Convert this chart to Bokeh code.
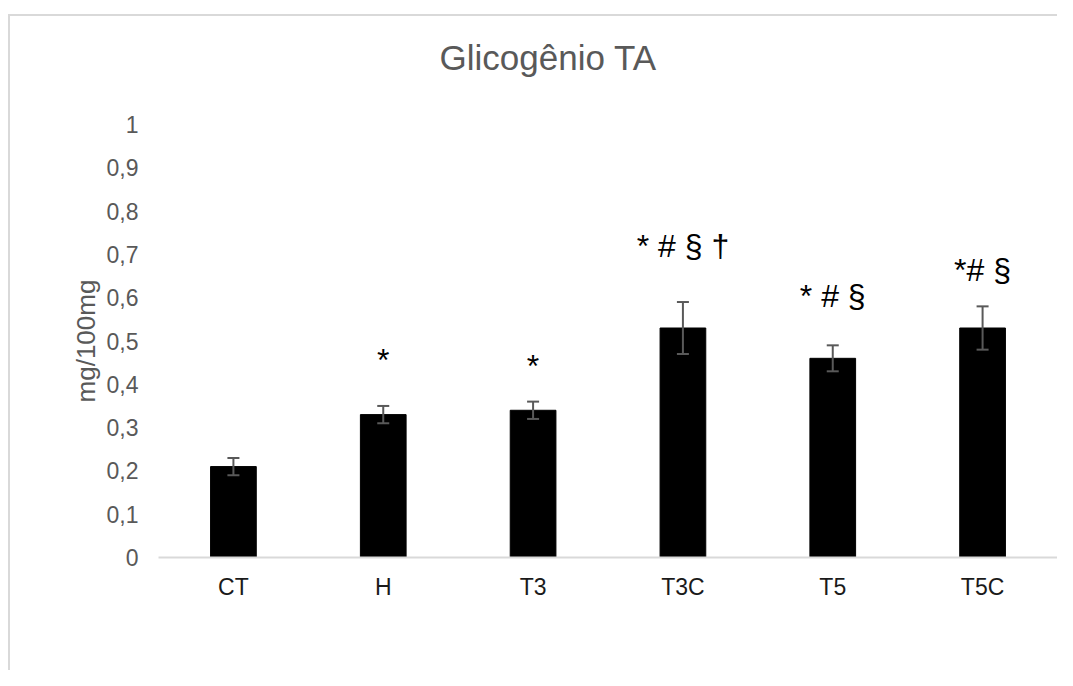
from bokeh.plotting import figure
from bokeh.models import ColumnDataSource, Whisker, TeeHead, Range1d, FactorRange, FixedTicker, Title
from bokeh.core.properties import value
from bokeh.embed import file_html
from bokeh.resources import INLINE

# ---- data ----
categories = ["CT", "H", "T3", "T3C", "T5", "T5C"]
means = [0.21, 0.33, 0.34, 0.53, 0.46, 0.53]
errors = [0.02, 0.02, 0.02, 0.06, 0.03, 0.05]
sig_labels = ["", "*", "*", "* # § †", "* # §", "*# §"]
sig_heights = [0.0, 0.455, 0.442, 0.7185, 0.605, 0.663]
yticks = [0, 0.1, 0.2, 0.3, 0.4, 0.5, 0.6, 0.7, 0.8, 0.9, 1]
ytick_labels = ["0", "0,1", "0,2", "0,3", "0,4", "0,5", "0,6", "0,7", "0,8", "0,9", "1"]
title_text = "Glicogênio TA"
ylabel_text = "mg/100mg"

FONT = "Liberation Sans"
GRAY = "#595959"
FRAME = "#d9d9d9"

src = ColumnDataSource(dict(
    cat=categories,
    mean=means,
    upper=[m + e for m, e in zip(means, errors)],
    lower=[m - e for m, e in zip(means, errors)],
))
sig_idx = [i for i, s in enumerate(sig_labels) if s]
sig_src = ColumnDataSource(dict(
    cat=[categories[i] for i in sig_idx],
    y=[sig_heights[i] for i in sig_idx],
    txt=[sig_labels[i] for i in sig_idx],
))

p = figure(
    width=1057, height=670,
    x_range=FactorRange(*categories, range_padding=0),
    y_range=Range1d(0, 1),
    output_backend="svg", toolbar_location=None,
    min_border_left=158, min_border_right=0,
    min_border_top=124, min_border_bottom=113,
)
p.outline_line_color = None
p.background_fill_color = "white"
p.border_fill_color = None
p.border_fill_alpha = 0
p.xgrid.grid_line_color = None
p.ygrid.grid_line_color = None

p.vbar(x="cat", top="mean", width=0.305, source=src, fill_color="black", line_color="black")

w = Whisker(base="cat", upper="upper", lower="lower", source=src, level="overlay",
            line_color=GRAY, line_width=2,
            upper_head=TeeHead(size=12, line_color=GRAY, line_width=2),
            lower_head=TeeHead(size=12, line_color=GRAY, line_width=2))
p.add_layout(w)

p.text(x="cat", y="y", text="txt", source=sig_src,
       text_font=value(FONT), text_font_size="32px", text_color="black",
       text_align="center", text_baseline="alphabetic")

# axes
p.yaxis.ticker = FixedTicker(ticks=yticks)
p.yaxis.major_label_overrides = {t: l for t, l in zip(yticks, ytick_labels)}
p.yaxis.axis_line_color = None
p.yaxis.major_tick_line_color = None
p.yaxis.minor_tick_line_color = None
p.yaxis.major_tick_out = 0
p.yaxis.major_tick_in = 0
p.yaxis.major_label_text_font = FONT
p.yaxis.major_label_text_font_size = "23px"
p.yaxis.major_label_text_color = GRAY
p.yaxis.major_label_standoff = 20
p.yaxis.axis_label = ylabel_text
p.yaxis.axis_label_text_font = FONT
p.yaxis.axis_label_text_font_size = "26px"
p.yaxis.axis_label_text_font_style = "normal"
p.yaxis.axis_label_text_color = GRAY
p.yaxis.axis_label_standoff = 3

p.xaxis.axis_line_color = FRAME
p.xaxis.axis_line_width = 2
p.xaxis.major_tick_line_color = None
p.xaxis.minor_tick_line_color = None
p.xaxis.major_label_text_font = FONT
p.xaxis.major_label_text_font_size = "23px"
p.xaxis.major_label_text_color = "#1a1a1a"
p.xaxis.major_label_standoff = 10

# spacer title (closest to frame) then real title
p.add_layout(Title(text=" ", text_font_size="28px"), "above")
p.title.text = title_text
p.title.text_font = FONT
p.title.text_font_size = "35px"
p.title.text_font_style = "normal"
p.title.text_color = GRAY
p.title.align = "left"
p.title.offset = 281

# chart-area frame lines (top and left edges of the chart box)
p.styles = {
    "background-image": f"linear-gradient({FRAME},{FRAME}), linear-gradient({FRAME},{FRAME})",
    "background-size": "3000px 2px, 2px 3000px",
    "background-position": "8px 14px, 8px 14px",
    "background-repeat": "no-repeat, no-repeat",
}

open("out.html", "w").write(file_html(p, INLINE))
